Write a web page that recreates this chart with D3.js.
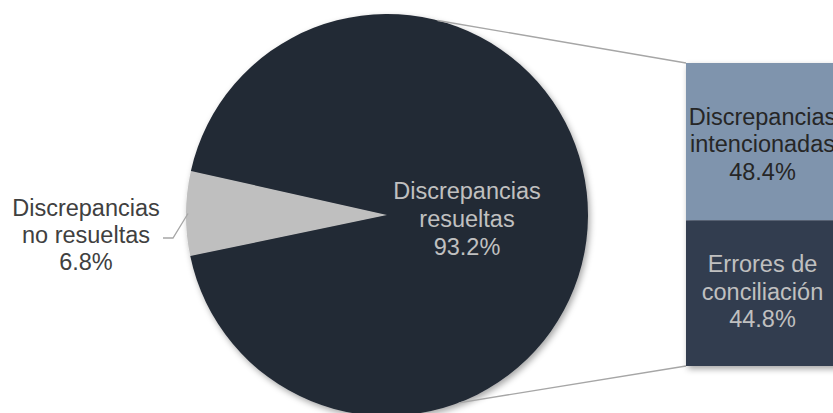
<!DOCTYPE html>
<html>
<head>
<meta charset="utf-8">
<script src="https://cdn.jsdelivr.net/npm/d3@7"></script>
<style>
  body { margin: 0; background: #fff; }
  text { font-family: "Liberation Sans", Arial, sans-serif; }
</style>
</head>
<body>
<div id="vis"></div>
<script>
// datos
var pieLabels = [["Discrepancias", "no resueltas"], ["Discrepancias", "resueltas"]];
var pieValues = [6.8, 93.2];
var barLabels = [["Discrepancias", "intencionadas"], ["Errores de", "conciliación"]];
var barValues = [48.4, 44.8];

var width = 833, height = 413;
var cx = 387, cy = 215, radius = 201;
var FONT = 23.5;

var svg = d3.select("#vis").append("svg")
    .attr("width", width)
    .attr("height", height);

var defs = svg.append("defs");
var f = defs.append("filter").attr("id", "shadow")
    .attr("x", "-20%").attr("y", "-20%").attr("width", "140%").attr("height", "140%");
f.append("feDropShadow")
    .attr("dx", 2).attr("dy", 3).attr("stdDeviation", 3)
    .attr("flood-color", "#000").attr("flood-opacity", 0.35);

// kleiner Keil links zentriert
var start = -101.8 * Math.PI / 180;
var pie = d3.pie().sort(null).startAngle(start).endAngle(start + 2 * Math.PI);
var arcs = pie(pieValues);
var arc = d3.arc().innerRadius(0).outerRadius(radius);

var pieG = svg.append("g").attr("transform", "translate(" + cx + "," + cy + ")");
var pieColors = ["#bfbfbf", "#232a35"];

pieG.append("g").attr("filter", "url(#shadow)")
  .selectAll("path")
  .data(arcs)
  .enter().append("path")
    .attr("d", arc)
    .attr("fill", function(d, i) { return pieColors[i]; });

// Verbindungslinien zur Säule
var barX = 686, barW = 152, barTop = 63, barBottom = 366;
var y = d3.scaleLinear()
    .domain([0, d3.sum(barValues)])
    .range([barTop, barBottom]);

var pTop = d3.pointRadial(14.6 * Math.PI / 180, radius);
var pBot = d3.pointRadial(159.1 * Math.PI / 180, radius);
svg.append("line")
    .attr("x1", cx + pTop[0]).attr("y1", cy + pTop[1])
    .attr("x2", barX).attr("y2", y(0))
    .style("stroke", "#a6a6a6").style("stroke-width", 1.3);
svg.append("line")
    .attr("x1", cx + pBot[0]).attr("y1", cy + pBot[1])
    .attr("x2", barX).attr("y2", y(d3.sum(barValues)))
    .style("stroke", "#a6a6a6").style("stroke-width", 1.3);

// Säule
var stack = [];
var acc = 0;
barValues.forEach(function(v, i) {
  stack.push({ y0: acc, y1: acc + v, value: v, label: barLabels[i] });
  acc += v;
});
var barColors = ["#7f94ad", "#323d50"];
var barText = ["#262626", "#c0c0c0"];
var labelShift = [-17, -21];

var barG = svg.append("g").attr("filter", "url(#shadow)");
barG.selectAll("rect")
  .data(stack)
  .enter().append("rect")
    .attr("x", barX)
    .attr("y", function(d) { return y(d.y0); })
    .attr("width", barW)
    .attr("height", function(d) { return y(d.y1) - y(d.y0); })
    .attr("fill", function(d, i) { return barColors[i]; });

function multiline(g, lines, x, yBase, color, lh) {
  var t = g.append("text")
      .attr("text-anchor", "middle")
      .style("font-size", FONT + "px")
      .style("fill", color);
  lines.forEach(function(s, k) {
    t.append("tspan").attr("x", x).attr("y", yBase + k * lh).text(s);
  });
  return t;
}

stack.forEach(function(d, i) {
  var mid = (y(d.y0) + y(d.y1)) / 2;
  multiline(svg, d.label.concat([d.value.toFixed(1) + "%"]), barX + barW / 2 + 0.5, mid + labelShift[i], barText[i], 27.5);
});

// Beschriftung großer Keil
multiline(svg, pieLabels[1].concat([pieValues[1].toFixed(1) + "%"]), 467, 199, "#c0c0c0", 28);

// Beschriftung kleiner Keil mit Führungslinie
var small = arcs[0];
var midA = (small.startAngle + small.endAngle) / 2;
var pe = d3.pointRadial(midA, radius - 2);
svg.append("polyline")
    .attr("points", [[cx + pe[0], cy + pe[1]], [173, 238], [163, 238]].map(function(p) { return p.join(","); }).join(" "))
    .style("fill", "none")
    .style("stroke", "#a6a6a6")
    .style("stroke-width", 1.3);
multiline(svg, pieLabels[0].concat([pieValues[0].toFixed(1) + "%"]), 86, 216, "#404040", 27);
</script>
</body>
</html>
